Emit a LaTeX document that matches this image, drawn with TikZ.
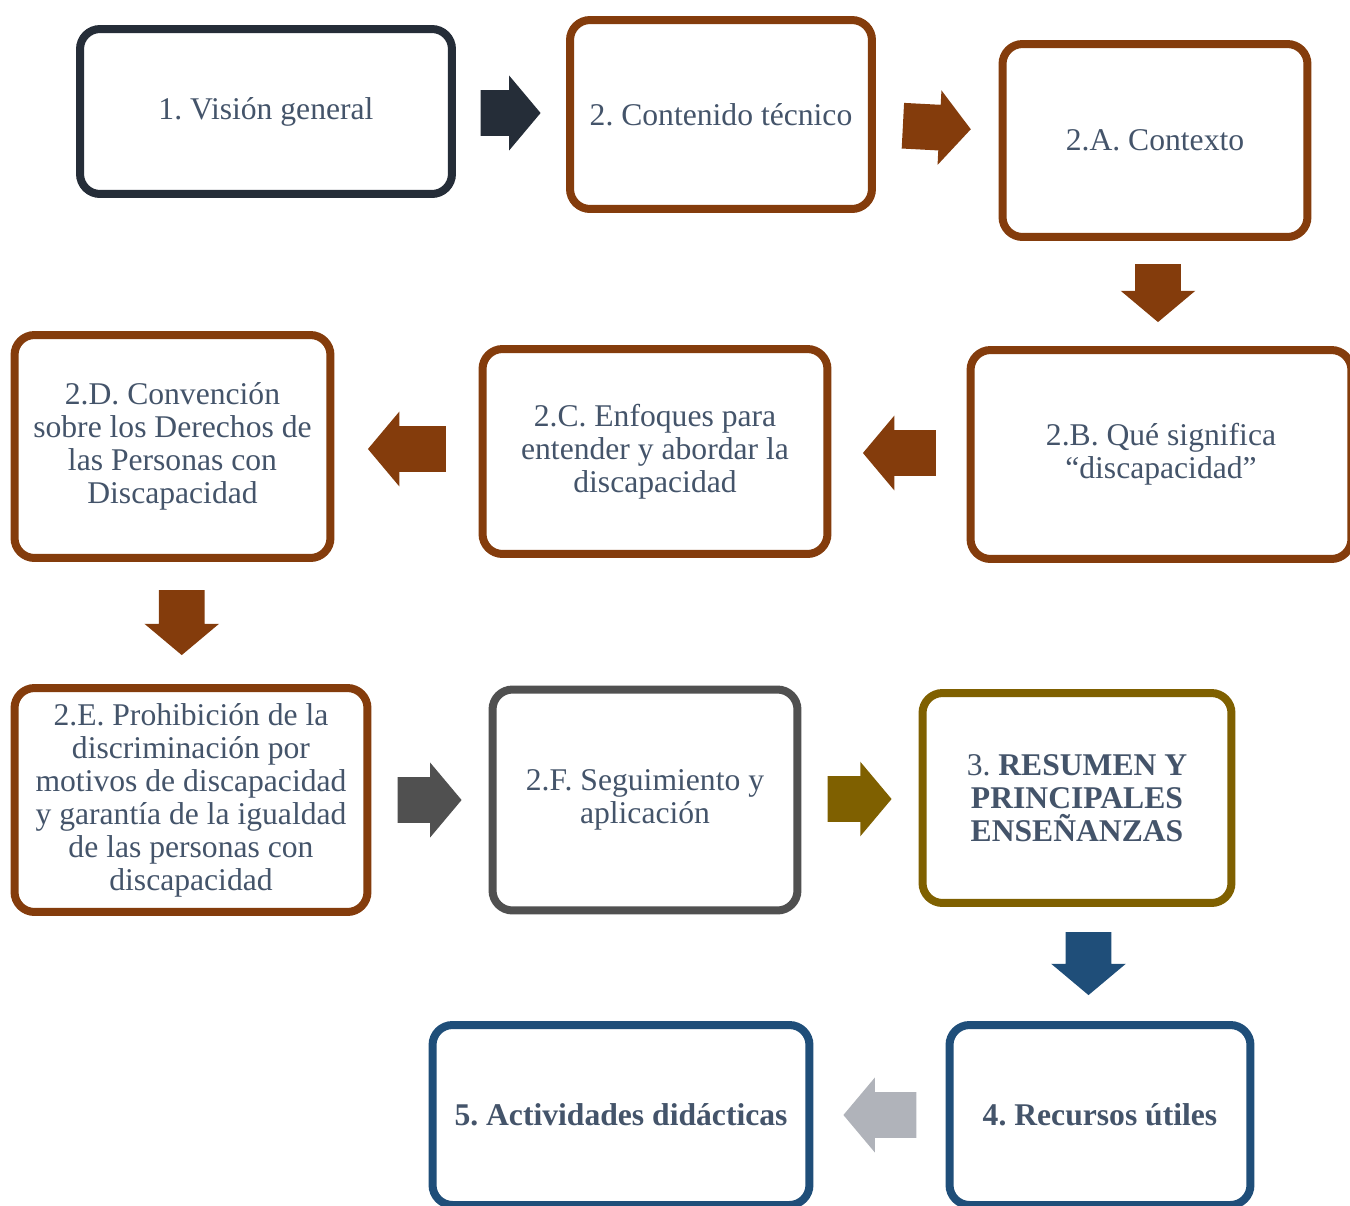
\documentclass[tikz,border=0pt]{standalone}
\usepackage{fontspec}
\setmainfont{Liberation Serif}
\usetikzlibrary{shapes.arrows,calc}

\definecolor{darkc}{HTML}{252D38}
\definecolor{brownc}{HTML}{843C0C}
\definecolor{greyc}{HTML}{505050}
\definecolor{olivec}{HTML}{7F6000}
\definecolor{bluec}{HTML}{1F4E79}
\definecolor{lightc}{HTML}{B0B3BA}
\definecolor{textc}{HTML}{44546A}

\tikzset{
  stepbox/.style={draw=#1, line width=0.16cm, rounded corners=0.4cm, fill=white,
    align=center, text=textc, font=\fontsize{18}{18.8}\selectfont},
  blockarrow/.style={single arrow, fill=#1, draw=none, inner xsep=0pt, inner ysep=0.45cm,
    single arrow head extend=0.29cm, single arrow tip angle=100, single arrow head indent=0pt},
  centred/.style={xshift=-0.2cm}% move the arrow back so it sits in the gap
}

\begin{document}
\frenchspacing
\begin{tikzpicture}[x=0.02cm, y=-0.02cm]
\useasboundingbox (0,0) rectangle (1350,1205);

% boxes
\node [stepbox=darkc, minimum width=7.44cm, minimum height=3.3cm] (v1) at (266,111.5) {1. Visión general};
\node [stepbox=brownc, minimum width=6.04cm, minimum height=3.78cm] (v2) at (721,114.5) {2. Contenido técnico};
\node [stepbox=brownc, minimum width=6.1cm, minimum height=3.86cm] (vA) at (1155,140.5) {2.A. Contexto};
\node [stepbox=brownc, minimum width=7.62cm, minimum height=4.18cm] (vB) at (1161,454.5) {2.B. Qué significa\\“discapacidad”};
\node [stepbox=brownc, minimum width=6.9cm, minimum height=4.1cm] (vC) at (655,451.5) {2.C. Enfoques para\\entender y abordar la\\discapacidad};
\node [stepbox=brownc, minimum width=6.32cm, minimum height=4.46cm] (vD) at (172.5,446.5) {2.D. Convención\\sobre los Derechos de\\las Personas con\\Discapacidad};
\node [stepbox=brownc, minimum width=7.06cm, minimum height=4.48cm] (vE) at (191,800) {2.E. Prohibición de la\\discriminación por\\motivos de discapacidad\\y garantía de la igualdad\\de las personas con\\discapacidad};
\node [stepbox=greyc, minimum width=6.1cm, minimum height=4.42cm] (vF) at (645,800) {2.F. Seguimiento y\\aplicación};
\node [stepbox=olivec, minimum width=6.18cm, minimum height=4.2cm] (v3) at (1077,798) {3. \textbf{RESUMEN Y}\\\textbf{PRINCIPALES}\\\textbf{ENSEÑANZAS}};
\node [stepbox=bluec, minimum width=6.02cm, minimum height=3.6cm] (v4) at (1100,1115) {\textbf{4. Recursos útiles}};
\node [stepbox=bluec, minimum width=7.54cm, minimum height=3.6cm] (v5) at (621,1115) {\textbf{5. Actividades didácticas}};

% arrows between the boxes
\node [blockarrow=darkc, minimum height=1.2cm, centred] (a1) at ($(v1.east)!0.5!(v2.west)$) {};
\node [blockarrow=brownc, minimum height=1.36cm, rotate=-3, centred] (a2) at ($(v2.east)!0.5!(vA.west)$) {};
\node [blockarrow=brownc, minimum height=1.16cm, rotate=-90, centred] (a3) at ($(vA.south)!0.5!(vB.north)$) {};
\node [blockarrow=brownc, minimum height=1.46cm, rotate=180, centred] (a4) at ($(vB.west)!0.5!(vC.east)$) {};
\node [blockarrow=brownc, minimum height=1.56cm, rotate=180, centred] (a5) at ($(vC.west)!0.5!(vD.east)$) {};
\node [blockarrow=brownc, minimum height=1.3cm, rotate=-90, centred] (a6) at ($(vD.south)!0.5!(vE.north)$) {};
\node [blockarrow=greyc, minimum height=1.28cm, centred] (a7) at ($(vE.east)!0.5!(vF.west)$) {};
\node [blockarrow=olivec, minimum height=1.28cm, centred] (a8) at ($(vF.east)!0.5!(v3.west)$) {};
\node [blockarrow=bluec, minimum height=1.26cm, rotate=-90, centred] (a9) at ($(v3.south)!0.5!(v4.north)$) {};
\node [blockarrow=lightc, minimum height=1.46cm, rotate=180, centred] (a10) at ($(v4.west)!0.5!(v5.east)$) {};
\end{tikzpicture}
\end{document}
